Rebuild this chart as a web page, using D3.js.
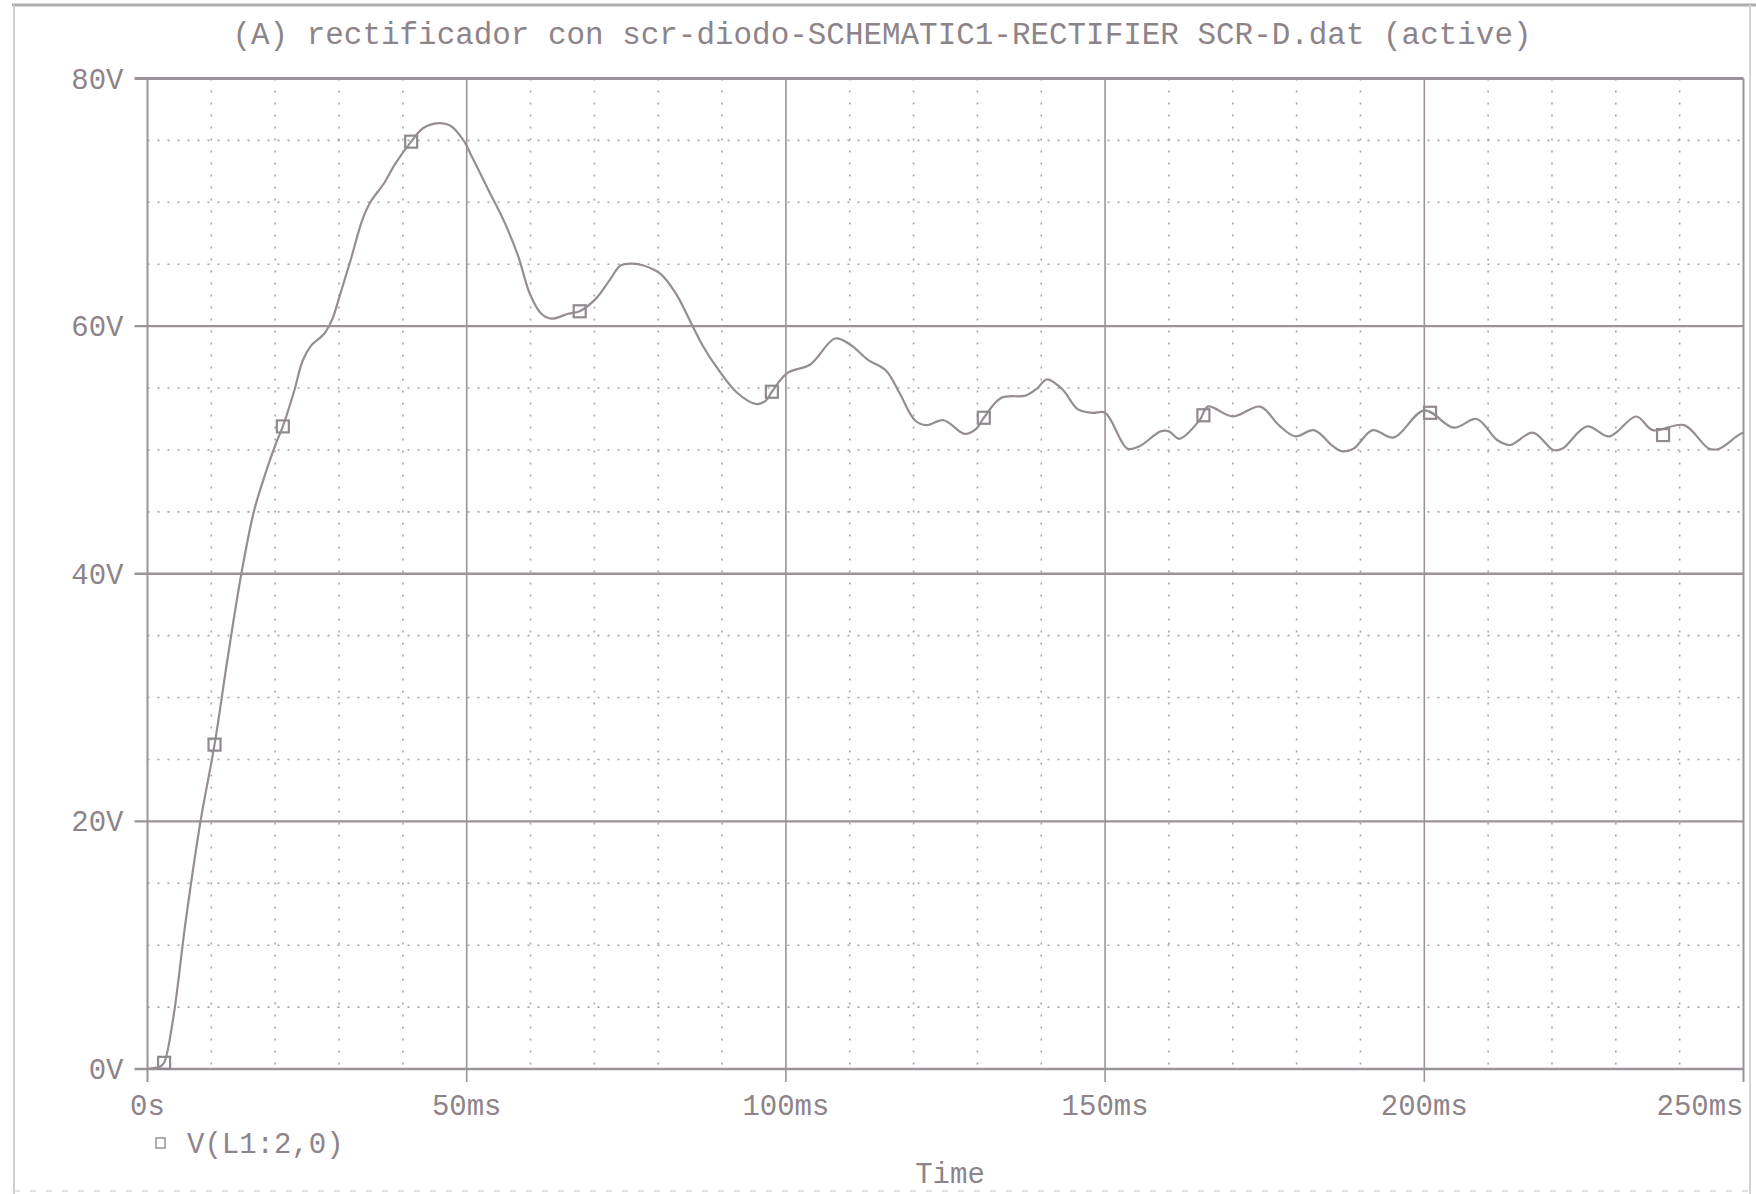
<!DOCTYPE html>
<html>
<head>
<meta charset="utf-8">
<script src="https://cdn.jsdelivr.net/npm/d3@7"></script>
<style>
  html, body { margin: 0; padding: 0; background: #ffffff; }
  svg { display: block; }
  text { font-family: "Liberation Mono", "DejaVu Sans Mono", monospace; fill: #8d848a; }
</style>
</head>
<body>
<svg id="chart" width="1756" height="1194"></svg>
<script>
// Transient voltage across L1 (node 2 to ground), rectifier with SCR and diode
const timeMs = [0, 2, 2.6, 4, 6, 8.3, 10.5, 12.5, 14.7, 16.7, 18.6, 20.1, 21.2, 23, 24.3, 25.6,
  27.7, 28.9, 30.2, 31.8, 33.6, 34.9, 37, 38.8, 41.3, 43.2, 45.6, 47.4, 49.5, 50.8, 53.4, 56,
  58.1, 59.9, 61.7, 63.3, 65.9, 67.7, 70.2, 72.5, 74.1, 75.9, 77.7, 80.4, 82.8, 85.2, 87, 89.4,
  92.4, 95.4, 96.9, 97.8, 100.2, 103.8, 107.7, 110.1, 112.8, 115.7, 117.8, 120.2, 122, 124.7,
  128, 129.8, 131, 133.7, 137.6, 139.4, 140.9, 143.3, 145.7, 148, 150, 153.5, 155.4, 158.7,
  160, 161.6, 164.8, 166.1, 170, 174.3, 177.2, 179.8, 182.7, 185.7, 187, 188.9, 191.9, 195.2,
  200, 204.6, 208.2, 211.4, 213.4, 217, 220.2, 221.6, 225.5, 229, 233.2, 235.8, 240.7, 244.6,
  246.2, 249.2, 250];
const volts = [0, 0.2, 0.5, 4, 12, 20, 26.2, 33, 40, 45.1, 48.3, 50.5, 51.9, 54.8, 57.2, 58.4,
  59.4, 60.5, 62.6, 65.3, 68.5, 70.0, 71.5, 73.1, 74.9, 76.0, 76.4, 76.2, 75.0, 73.7, 71.0, 68.3,
  65.6, 62.6, 61.0, 60.6, 61.0, 61.2, 62.2, 63.8, 64.9, 65.05, 64.9, 64.2, 62.6, 60.2, 58.4, 56.5,
  54.6, 53.7, 54.0, 54.7, 56.2, 56.9, 59.0, 58.5, 57.3, 56.4, 54.6, 52.4, 52.0, 52.4,
  51.3, 51.7, 52.6, 54.2, 54.4, 55.0, 55.7, 54.9, 53.3, 53.0, 53.0, 50.1, 50.3, 51.5,
  51.5, 50.9, 52.4, 53.5, 52.7, 53.5, 52.0, 51.1, 51.6, 50.3, 49.9, 50.1, 51.6, 51.0,
  53.2, 51.8, 52.5, 50.8, 50.4, 51.4, 50.0, 50.1, 51.9, 51.1, 52.7, 51.6, 52.0, 50.1,
  50.1, 51.2, 51.4];

// Trace symbol positions
const markerTimes = [2.6, 10.5, 21.2, 41.3, 67.7, 97.8, 131, 165.4, 200.9, 237.4];
const markerVolts = [0.5, 26.2, 51.9, 74.9, 61.2, 54.7, 52.6, 52.8, 53.0, 51.2];

// Axis ticks and labels
const xTicks = [0, 50, 100, 150, 200, 250];
const xTickLabels = ["0s", "50ms", "100ms", "150ms", "200ms", "250ms"];
const yTicks = [0, 20, 40, 60, 80];
const yTickLabels = ["0V", "20V", "40V", "60V", "80V"];

const titleText = "(A) rectificador con scr-diodo-SCHEMATIC1-RECTIFIER SCR-D.dat (active)";
const traceName = "V(L1:2,0)";
const xAxisTitle = "Time";

const svg = d3.select("#chart");
const lineColor = "#9c939a";
const gridDot = "#aaa2a8";

const x = d3.scaleLinear().domain([0, 250]).range([147.5, 1743.5]);
const y = d3.scaleLinear().domain([0, 80]).range([1069, 78.5]);

// Page frame
svg.append("line").attr("x1", 12).attr("x2", 1756).attr("y1", 5).attr("y2", 5)
  .attr("stroke", "#b2abb0").attr("stroke-width", 3);
svg.append("line").attr("x1", 14).attr("x2", 14).attr("y1", 5).attr("y2", 1194)
  .attr("stroke", "#d2cdd0").attr("stroke-width", 2);
svg.append("line").attr("x1", 1750).attr("x2", 1750).attr("y1", 5).attr("y2", 1194)
  .attr("stroke", "#d6d1d4").attr("stroke-width", 2);
svg.append("line").attr("x1", 14).attr("x2", 1750).attr("y1", 1191).attr("y2", 1191)
  .attr("stroke", "#e2dee1").attr("stroke-width", 2).attr("stroke-dasharray", "6,10");

// Minor grid (dotted)
const minorX = d3.range(10, 250, 10).filter(t => t % 50 !== 0);
const minorY = d3.range(5, 80, 5).filter(v => v % 20 !== 0);
svg.append("g").selectAll("line").data(minorX).join("line")
  .attr("x1", d => x(d)).attr("x2", d => x(d))
  .attr("y1", y(80)).attr("y2", y(0))
  .attr("stroke", gridDot).attr("stroke-width", 1.6).attr("stroke-dasharray", "2,10");
svg.append("g").selectAll("line").data(minorY).join("line")
  .attr("x1", x(0)).attr("x2", x(250))
  .attr("y1", d => y(d)).attr("y2", d => y(d))
  .attr("stroke", gridDot).attr("stroke-width", 1.6).attr("stroke-dasharray", "2,8");

// Major grid with ticks
svg.append("g").selectAll("line").data(yTicks).join("line")
  .attr("x1", x(0) - 13).attr("x2", x(250))
  .attr("y1", d => y(d)).attr("y2", d => y(d))
  .attr("stroke", lineColor).attr("stroke-width", d => d === 80 ? 3 : 2.4);
svg.append("g").selectAll("line").data(xTicks).join("line")
  .attr("x1", d => x(d)).attr("x2", d => x(d))
  .attr("y1", y(80)).attr("y2", y(0) + 13)
  .attr("stroke", lineColor).attr("stroke-width", d => (d === 0 || d === 250) ? 2 : 1.6);

// Trace
const pts = timeMs.map((t, i) => [t, volts[i]]);
const line = d3.line().x(d => x(d[0])).y(d => y(d[1])).curve(d3.curveCatmullRom.alpha(0.5));
svg.append("path").datum(pts).attr("d", line)
  .attr("fill", "none").attr("stroke", "#968d93").attr("stroke-width", 2.2)
  .attr("stroke-linejoin", "round");

// Trace symbols
const mk = 12;
svg.append("g").selectAll("rect").data(markerTimes.map((t, i) => [t, markerVolts[i]])).join("rect")
  .attr("x", d => x(d[0]) - mk / 2).attr("y", d => y(d[1]) - mk / 2)
  .attr("width", mk).attr("height", mk)
  .attr("fill", "none").attr("stroke", "#918890").attr("stroke-width", 2.2);

// Title
svg.append("text").attr("x", 882).attr("y", 44).attr("text-anchor", "middle")
  .attr("font-size", 31).attr("textLength", 1299).attr("lengthAdjust", "spacingAndGlyphs")
  .text(titleText);

// Y tick labels
svg.append("g").selectAll("text").data(yTicks).join("text")
  .attr("x", x(0) - 24).attr("y", d => y(d) + 10).attr("text-anchor", "end")
  .attr("font-size", 29)
  .text((d, i) => yTickLabels[i]);

// X tick labels
svg.append("g").selectAll("text").data(xTicks).join("text")
  .attr("x", d => x(d)).attr("y", 1115)
  .attr("text-anchor", (d, i) => i === xTicks.length - 1 ? "end" : "middle")
  .attr("font-size", 29)
  .text((d, i) => xTickLabels[i]);

// Legend
svg.append("rect").attr("x", 156).attr("y", 1138).attr("width", 9).attr("height", 10)
  .attr("fill", "none").attr("stroke", "#a098a0").attr("stroke-width", 1.6);
svg.append("text").attr("x", 187).attr("y", 1153).attr("font-size", 29).text(traceName);

// Axis title
svg.append("text").attr("x", 950).attr("y", 1183).attr("text-anchor", "middle")
  .attr("font-size", 29).text(xAxisTitle);
</script>
</body>
</html>
